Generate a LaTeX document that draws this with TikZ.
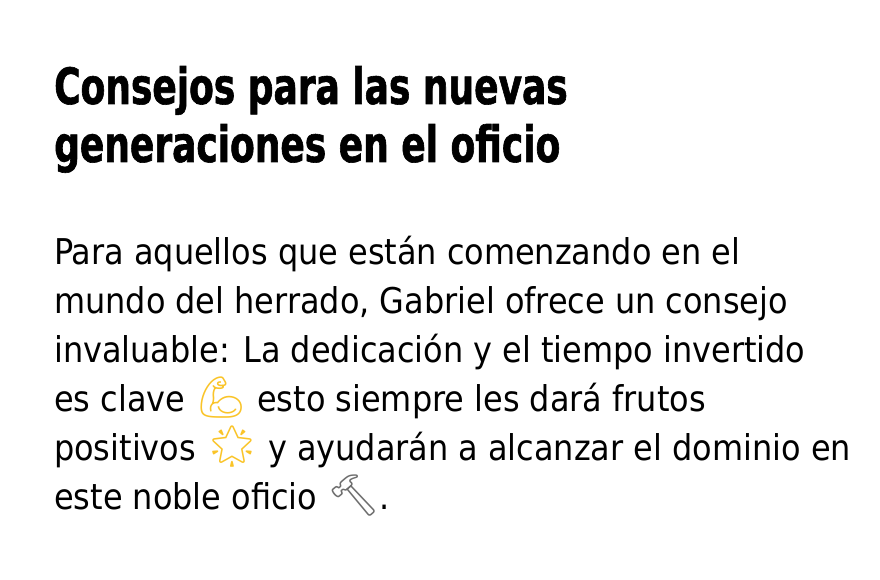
\documentclass[tikz,border=0pt]{standalone}
\usepackage{fontspec}
\setmainfont{DejaVu Sans Condensed}
\newfontfamily\titlefont{DejaVu Sans Condensed}[FakeStretch=0.80,FakeBold=1.2]
\newfontfamily\emojifont{Noto Emoji}[Scale=1.15]
\definecolor{emojiyellow}{RGB}{250,196,40}
\definecolor{hammergray}{RGB}{110,110,110}
\newcommand{\emo}[2]{{\color{#1}\emojifont #2}}
\begin{document}
\begin{tikzpicture}[x=1pt,y=-1pt,
	titletext/.style={anchor=base west,inner sep=0pt,align=left,
		font=\titlefont\bfseries\fontsize{50}{58}\selectfont},
	bodytext/.style={anchor=base west,inner sep=0pt,align=left,
		font=\fontsize{35.5}{49}\selectfont}]
	\useasboundingbox[fill=white] (0,0) rectangle (880,580);
	% title (base = last line)
	\node[titletext] (title) at (54,162) {Consejos para las nuevas\\generaciones en el oficio};
	% body
	\node[bodytext] (body) at (54,509) {Para aquellos que están comenzando en el\\
		mundo del herrado, Gabriel ofrece un consejo\\
		invaluable: La dedicación y el tiempo invertido\\
		es clave \emo{emojiyellow}{💪} esto siempre les dará frutos\\
		positivos \emo{emojiyellow}{🌟} y ayudarán a alcanzar el dominio en\\
		este noble oficio \emo{hammergray}{🔨}.};
\end{tikzpicture}
\end{document}
